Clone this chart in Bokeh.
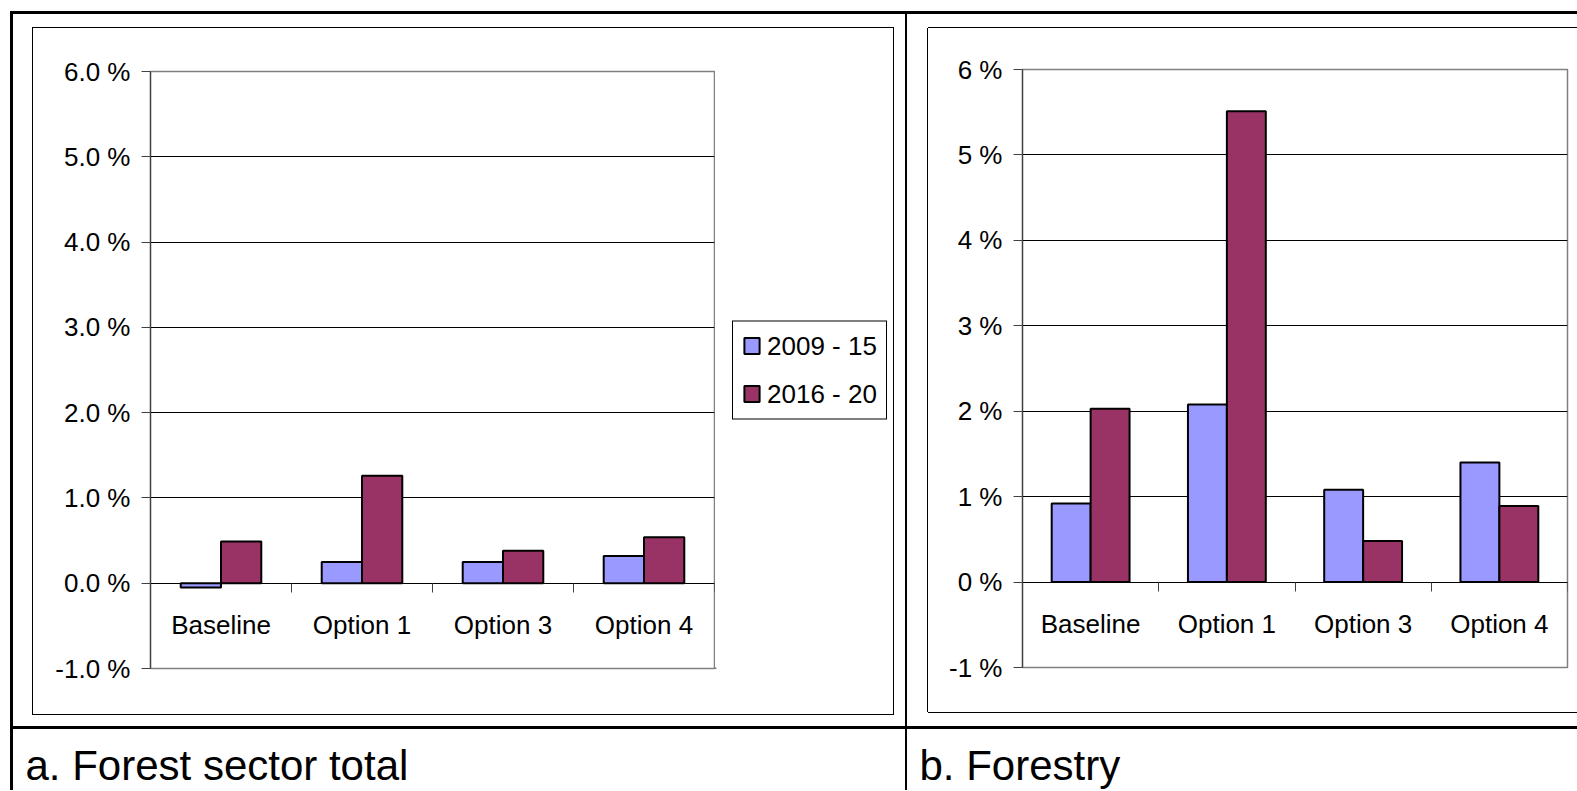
from bokeh.plotting import figure
from bokeh.models import (Range1d, LinearAxis, FixedTicker, SingleIntervalTicker,
                          PrintfTickFormatter, Legend, LegendItem, ColumnDataSource, Div)
from bokeh.layouts import row, column
from bokeh.transform import dodge
from bokeh.core.properties import value
from bokeh.embed import file_html
from bokeh.resources import INLINE

# ---- data (percent) ----
categories = ["Baseline", "Option 1", "Option 3", "Option 4"]
series_labels = ["2009 - 15", "2016 - 20"]
forest_sector_2009_15 = [-0.05, 0.25, 0.25, 0.32]
forest_sector_2016_20 = [0.49, 1.26, 0.38, 0.54]
forestry_2009_15 = [0.92, 2.08, 1.08, 1.40]
forestry_2016_20 = [2.03, 5.51, 0.48, 0.89]
y_min, y_max = -1, 6
captions = ["a. Forest sector total", "b. Forestry"]

FONT = "Liberation Sans"
C1 = "#9999FF"
C2 = "#993366"
BAR_W = 1 / 3.5
BAR_LW = 2
N = len(categories)
centers = [i + 0.5 for i in range(N)]


def make_chart(v1, v2, fmt, width, height, left, right, top, bottom, styles):
    src = ColumnDataSource(dict(pos=centers, s1=v1, s2=v2))
    p = figure(x_range=Range1d(0, N), y_range=Range1d(y_min, y_max),
               width=width, height=height, sizing_mode="fixed",
               min_border_left=left, min_border_right=right,
               min_border_top=top, min_border_bottom=bottom,
               toolbar_location=None, output_backend="svg",
               background_fill_color="white", border_fill_color="white",
               x_axis_location=None, styles=styles)
    p.outline_line_color = "#808080"
    p.outline_line_width = 1.5
    p.xgrid.visible = False
    p.ygrid.grid_line_color = "black"
    p.ygrid.grid_line_width = 1
    p.ygrid.ticker = SingleIntervalTicker(interval=1, num_minor_ticks=0)

    p.vbar(x=dodge("pos", -BAR_W / 2), top="s1", bottom=0, width=BAR_W,
           source=src, fill_color=C1, line_color="black", line_width=BAR_LW)
    p.vbar(x=dodge("pos", BAR_W / 2), top="s2", bottom=0, width=BAR_W,
           source=src, fill_color=C2, line_color="black", line_width=BAR_LW)

    # y axis
    ya = p.yaxis[0]
    ya.ticker = SingleIntervalTicker(interval=1, num_minor_ticks=0)
    ya.formatter = PrintfTickFormatter(format=fmt)
    ya.axis_line_color = "#404040"
    ya.axis_line_width = 1.2
    ya.major_tick_line_color = "#404040"
    ya.major_tick_in = 0
    ya.major_tick_out = 9
    ya.minor_tick_line_color = None
    ya.major_label_standoff = 11
    ya.major_label_text_font = FONT
    ya.major_label_text_font_size = "26px"
    ya.major_label_text_color = "black"

    # category labels, axis crossing at y = 0
    xa = LinearAxis(ticker=FixedTicker(ticks=centers),
                    major_label_overrides={c: lab for c, lab in zip(centers, categories)},
                    fixed_location=0, axis_line_color="black", axis_line_width=1,
                    major_tick_line_color=None, minor_tick_line_color=None,
                    major_label_standoff=21, major_label_text_font=FONT,
                    major_label_text_font_size="26px", major_label_text_color="black")
    p.add_layout(xa, "below")

    # tick marks between categories
    ba = LinearAxis(ticker=FixedTicker(ticks=list(range(N + 1))),
                    fixed_location=0, axis_line_color=None, major_tick_in=0, major_tick_out=9,
                    major_tick_line_color="#404040", minor_tick_line_color=None,
                    major_label_text_color=None, major_label_text_font_size="1px")
    p.add_layout(ba, "below")
    return p


def legend_panel(width, height):
    lp = figure(width=width, height=height, x_range=Range1d(0, 1), y_range=Range1d(0, 1),
                sizing_mode="fixed", min_border=0, x_axis_type=None, y_axis_type=None,
                toolbar_location=None, output_backend="svg")
    lp.outline_line_color = None
    # proxy glyphs lying outside the visible range: only their legend swatches show
    proxy = ColumnDataSource(dict(x=[-5], top=[-5]))
    g1 = lp.vbar(x="x", top="top", bottom=-6, width=0.1, source=proxy,
                 fill_color=C1, line_color="black", line_width=BAR_LW)
    g2 = lp.vbar(x="x", top="top", bottom=-6, width=0.1, source=proxy,
                 fill_color=C2, line_color="black", line_width=BAR_LW)
    leg = Legend(items=[LegendItem(label=series_labels[0], renderers=[g1]),
                        LegendItem(label=series_labels[1], renderers=[g2])],
                 location="center_left", margin=17, padding=9, spacing=17,
                 glyph_width=19, glyph_height=20, label_standoff=6,
                 label_text_font=FONT, label_text_font_size="26px",
                 label_text_color="black",
                 border_line_color="black", border_line_width=1, border_line_alpha=1,
                 background_fill_color="white", background_fill_alpha=1)
    lp.add_layout(leg, "center")
    return lp


fig_a = make_chart(forest_sector_2009_15, forest_sector_2016_20, "%.1f %%",
                   682, 686, 117, 1, 43, 46, {})
leg_a = legend_panel(178, 686)
chart_a = row(fig_a, leg_a, spacing=0, sizing_mode="fixed", width=860, height=686,
              margin=(14, 12, 12, 20), styles={"outline": "1px solid black"})

fig_b = make_chart(forestry_2009_15, forestry_2016_20, "%d %%",
                   649, 684, 94, 10, 41, 45,
                   {"box-shadow": "-1px 0 0 0 black, 0 -1px 0 0 black, 0 1px 0 0 black"})
fig_b.margin = (14, 0, 14, 21)

CAP_H = 61


def caption(txt, w, h):
    c = figure(width=w, height=h, x_range=Range1d(0, w), y_range=Range1d(0, h),
               sizing_mode="fixed", min_border=0, x_axis_type=None, y_axis_type=None,
               toolbar_location=None, output_backend="svg")
    c.outline_line_color = None
    c.text(x=[12], y=[h - 36], text=[txt], text_font=value(FONT), text_font_size="42px",
           text_baseline="alphabetic", text_align="left", text_color="black")
    c.margin = 0
    return c


def line(w, h):
    return Div(width=w, height=h, margin=0, sizing_mode="fixed",
               styles={"background-color": "black"})


cap_a = caption(captions[0], 892, CAP_H)
cap_b = caption(captions[1], 670, CAP_H)

row1 = row(line(3, 712), chart_a, line(2, 712), fig_b, spacing=0, sizing_mode="fixed",
           width=1567, height=712)
row2 = row(line(3, CAP_H), cap_a, line(2, CAP_H), cap_b, spacing=0, sizing_mode="fixed",
           width=1567, height=CAP_H)
root = column(line(1567, 3), row1, line(1567, 3), row2, spacing=0, sizing_mode="fixed",
              width=1567, height=718 + CAP_H, margin=(11, 0, 0, 10))

open("out.html", "w").write(file_html(root, INLINE))
